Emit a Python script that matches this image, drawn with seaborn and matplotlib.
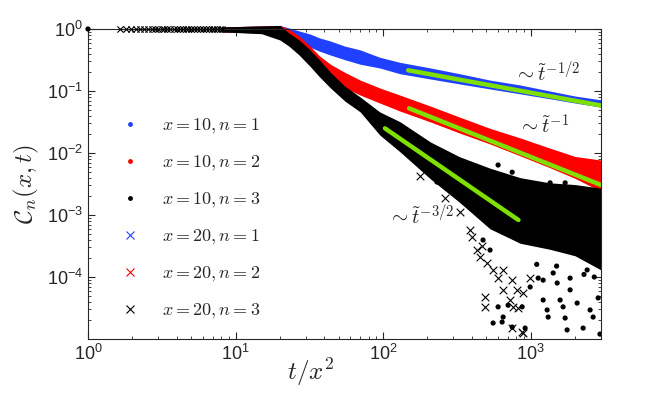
import numpy as np
import pandas as pd
import seaborn as sns
import matplotlib
matplotlib.use('Agg')
import matplotlib.pyplot as plt
from matplotlib.lines import Line2D

# values (t/x^2 on x, C_n(x,t) on y)
t_band = [8, 15, 20, 23, 27, 32, 37, 44, 55, 70, 95, 130, 210, 330, 530, 850, 1350, 2000, 3000]
# spread of the data cloud of each n (upper / lower edge), x=10 and x=20 collapse on it
n1_hi = [1.08, 1.12, 1.14, 1.04, 0.93, 0.83, 0.72, 0.64, 0.53, 0.46, 0.35, 0.29, 0.235, 0.19, 0.15, 0.125, 0.10, 0.083, 0.072]
n1_lo = [0.90, 0.86, 0.80, 0.74, 0.62, 0.51, 0.44, 0.38, 0.32, 0.27, 0.235, 0.19, 0.156, 0.13, 0.108, 0.09, 0.075, 0.064, 0.055]
n2_hi = [1.08, 1.12, 1.14, 1.0, 0.77, 0.53, 0.37, 0.27, 0.20, 0.15, 0.112, 0.086, 0.057, 0.038, 0.025, 0.0175, 0.012, 0.0088, 0.0077]
n2_lo = [0.90, 0.86, 0.80, 0.72, 0.43, 0.28, 0.20, 0.15, 0.112, 0.086, 0.064, 0.0475, 0.0316, 0.021, 0.014, 0.009, 0.0058, 0.0039, 0.0024]
n3_hi = [1.08, 1.12, 1.14, 0.86, 0.665, 0.46, 0.32, 0.20, 0.12, 0.08, 0.046, 0.032, 0.015, 0.0087, 0.0057, 0.0040, 0.0033, 0.0031, 0.0027]
n3_lo = [0.90, 0.84, 0.665, 0.53, 0.38, 0.25, 0.17, 0.112, 0.069, 0.046, 0.0195, 0.0105, 0.0038, 0.0016, 0.0006, 0.00035, 0.00028, 0.00022, 0.00013]

# early plateau, x=20 crosses and the first x=10 point
plateau_t = [1.65, 1.8, 1.95, 2.1, 2.25, 2.4, 2.55, 2.7, 2.85, 3.0, 3.15, 3.3, 3.45, 3.6, 3.8, 4.0,
             4.2, 4.4, 4.6, 4.8, 5.0, 5.25, 5.5, 5.75, 6.0, 6.3, 6.6, 6.9, 7.2, 7.5, 7.8, 8.1]
first_dot_t = [1.0]

# scattered n=3 points in the noisy tail
dots_t = [557, 641, 651, 602, 704, 876, 750, 918, 993, 1216, 1216, 1294, 1315, 1422, 1585, 1660,
          1714, 1767, 1852, 2067, 2270, 2530, 2653, 2869, 2950, 2416, 1852, 1514, 1125, 476, 531,
          602, 750, 232, 1356, 1714, 2810, 1100, 1500, 2300, 2700]
dots_c = [1.81e-5, 1.88e-5, 2.26e-5, 3.3e-5, 3.5e-5, 3.3e-5, 1.56e-5, 1.5e-5, 6.9e-5, 8.9e-5, 4.25e-5,
          2.94e-5, 2.26e-5, 1.16e-4, 4.25e-5, 3.3e-5, 2.18e-5, 1.4e-5, 6.2e-5, 3.8e-5, 1.5e-5, 2.94e-5,
          2.26e-5, 4.6e-5, 1.2e-5, 1.3e-4, 9.6e-5, 8.0e-5, 9.6e-5, 3.95e-4, 2.72e-4,
          0.0064, 0.0049, 0.0034, 0.0033, 0.0033, 0.0025, 1.6e-4, 1.5e-4, 1.1e-4, 1.0e-4]
cross_t = [492, 492, 602, 651, 726, 761, 823, 750, 876, 889, 810, 889, 993, 557, 507, 455, 434,
           651, 750, 263, 333, 389, 178, 400, 470]
cross_c = [4.75e-5, 3.3e-5, 9.6e-5, 6.2e-5, 4.25e-5, 3.3e-5, 3.16e-5, 1.5e-5, 1.3e-5, 1.25e-5,
           6.2e-5, 5.5e-5, 9.6e-5, 1.3e-4, 1.68e-4, 2.1e-4, 2.72e-4, 1.3e-4, 8.9e-5,
           0.0019, 0.0011, 5.7e-4, 0.0042, 4.5e-4, 3.2e-4]

# power-law guides
guide1_t, guide1_c = [148, 3000], [0.216, 0.0584]
guide2_t, guide2_c = [150, 3000], [0.0526, 0.00305]
guide3_t, guide3_c = [103, 827], [0.025, 8.3e-4]

blue, red, green = '#2040ff', '#ff0000', '#7fe000'

sns.set_style('ticks')
plt.rcParams['font.family'] = ['Liberation Sans', 'DejaVu Sans']
plt.rcParams['mathtext.fontset'] = 'cm'

fig = plt.figure(figsize=(6.63, 3.93), dpi=100)
ax = fig.add_axes([0.1327, 0.1374, 0.7738, 0.7888])

for hi, lo, col in [(n1_hi, n1_lo, blue), (n2_hi, n2_lo, red), (n3_hi, n3_lo, 'black')]:
    ax.fill_between(t_band, lo, hi, color=col, lw=0, clip_on=False, zorder=2)

sns.scatterplot(x=plateau_t, y=[1.0] * len(plateau_t), marker='x', color='black', s=20,
                linewidth=0.8, ax=ax, clip_on=False, zorder=3)
sns.scatterplot(x=first_dot_t, y=[1.0], marker='o', color='black', s=14, edgecolor='none',
                ax=ax, clip_on=False, zorder=3)
sns.scatterplot(x=dots_t, y=dots_c, marker='o', color='black', s=14, edgecolor='none', ax=ax, zorder=3)
sns.scatterplot(x=cross_t, y=cross_c, marker='x', color='black', s=30, linewidth=0.8, ax=ax, zorder=3)

for gt, gc in [(guide1_t, guide1_c), (guide2_t, guide2_c), (guide3_t, guide3_c)]:
    sns.lineplot(x=gt, y=gc, color=green, lw=3.2, ax=ax, zorder=4)

ax.set_xscale('log')
ax.set_yscale('log')
ax.set_xlim(1, 3000)
ax.set_ylim(1e-5, 1)
ax.set_yticks([1e-4, 1e-3, 1e-2, 1e-1, 1])
ax.tick_params(which='both', direction='in', top=True, right=True, labelsize=13)
ax.tick_params(which='major', length=5)
ax.tick_params(which='minor', length=2.5)

ax.set_xlabel(r'$t/x^2$', fontsize=18)
ax.xaxis.set_label_coords(0.433, -0.055)
ax.set_ylabel(r'$\mathcal{C}_n(x,t)$', fontsize=18, labelpad=4)

ax.text(1294, 0.195, r'$\sim\tilde{t}^{-1/2}$', fontsize=15, ha='center', va='center')
ax.text(1235, 0.0272, r'$\sim\tilde{t}^{-1}$', fontsize=15, ha='center', va='center')
ax.text(181, 9.6e-4, r'$\sim\tilde{t}^{-3/2}$', fontsize=15, ha='center', va='center')

handles = [
    Line2D([], [], ls='none', marker='o', ms=3.5, mec='none', color=blue),
    Line2D([], [], ls='none', marker='o', ms=3.5, mec='none', color=red),
    Line2D([], [], ls='none', marker='o', ms=3.5, mec='none', color='black'),
    Line2D([], [], ls='none', marker='x', ms=6, mew=0.8, color=blue),
    Line2D([], [], ls='none', marker='x', ms=6, mew=0.8, color=red),
    Line2D([], [], ls='none', marker='x', ms=6, mew=0.8, color='black'),
]
labels = [r'$x = 10, n = 1$', r'$x = 10, n = 2$', r'$x = 10, n = 3$',
          r'$x = 20, n = 1$', r'$x = 20, n = 2$', r'$x = 20, n = 3$']
ax.legend(handles, labels, loc='upper left', bbox_to_anchor=(0.05, 0.74), frameon=False,
          fontsize=13, handlelength=1.0, handletextpad=1.3, labelspacing=1.0, borderaxespad=0)

fig.savefig('out.png', dpi=100)
